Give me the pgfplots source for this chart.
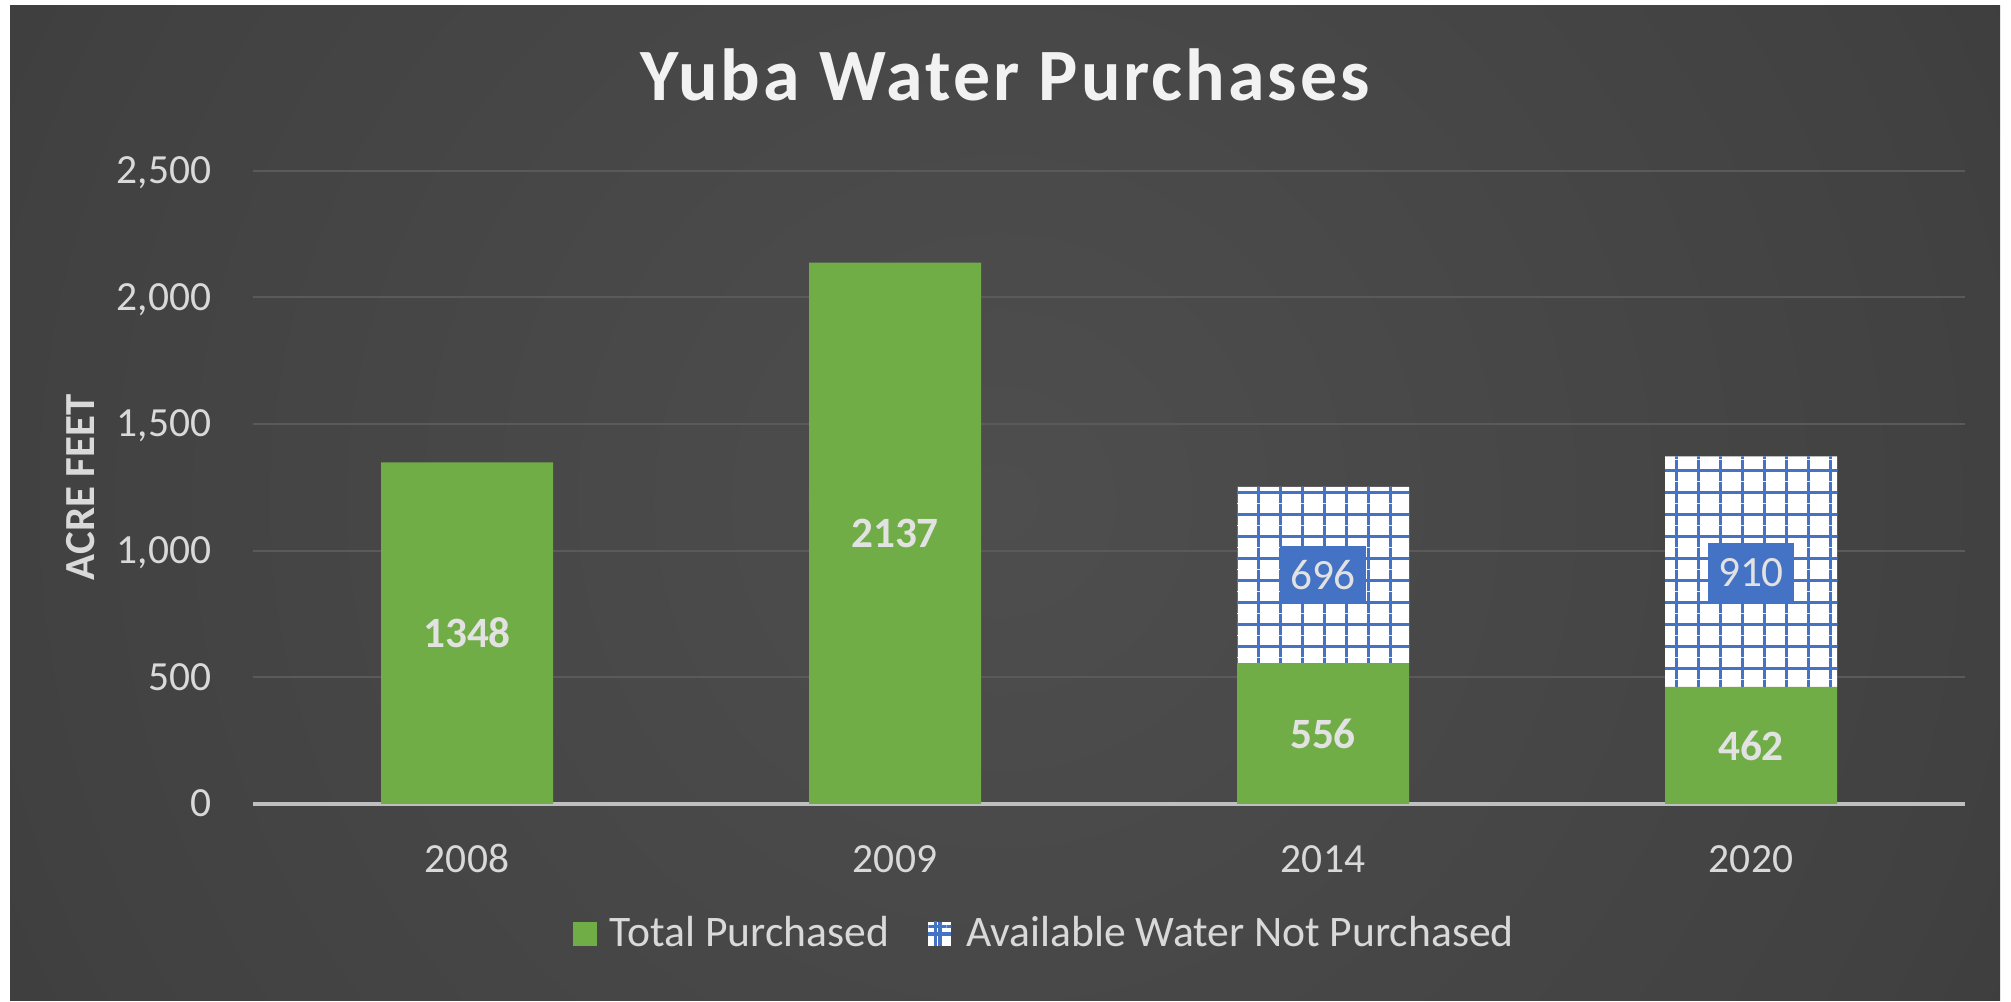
\documentclass[border=0pt]{standalone}
\usepackage{pgfplots}
\pgfplotsset{compat=1.18}
\usepackage{fontspec}
\setmainfont{Carlito}
\usetikzlibrary{patterns.meta}
\definecolor{xgreen}{HTML}{70AD47}
\definecolor{xblue}{HTML}{4472C4}
\definecolor{txt}{HTML}{D9D9D9}
\definecolor{lbl}{HTML}{E2E2E2}
\definecolor{gridc}{HTML}{5A5A5A}
\definecolor{basec}{HTML}{BFBFBF}
\definecolor{bginner}{HTML}{4E4E4E}
\definecolor{bgmid}{HTML}{414141}
\definecolor{bgout}{HTML}{2A2A2A}
\definecolor{bgcorner}{HTML}{232323}
\pgfdeclareradialshading{bgshade}{\pgfpoint{0bp}{0bp}}{color(0bp)=(bginner); color(25bp)=(bgmid); color(50bp)=(bgout); color(72bp)=(bgcorner)}
\tikzdeclarepattern{
  name=xgrid, type=colored,
  bounding box={(0pt,0pt) and (6.12pt,6.12pt)},
  tile size={(6.12pt,6.12pt)},
  code={
    \draw[xblue, line width=0.8pt] (0pt,3.06pt) -- (6.12pt,3.06pt);
    \draw[xblue, line width=0.8pt] (3.06pt,0pt) -- (3.06pt,6.12pt);
  }
}
\begin{document}
\begin{tikzpicture}
\useasboundingbox (0,0) rectangle (20.11cm,10.02cm);
\fill[white] (0,0) rectangle (20.11cm,10.02cm);
\begin{scope}
\clip (0.10cm,0.01cm) rectangle (20.04cm,9.96cm);
\shade[shading=bgshade] (0cm,-5cm) rectangle (20cm,15cm);
\end{scope}
\begin{axis}[
  at={(2.53cm,1.98cm)}, anchor=south west,
  scale only axis, width=17.12cm, height=6.334cm,
  xmin=-0.5, xmax=3.5, ymin=0, ymax=2500,
  ybar stacked, bar width=1.72cm,
  axis line style={draw=none},
  tick style={draw=none}, major tick length=0pt,
  ytick={500,1000,1500,2000,2500},
  extra y ticks={0},
  extra y tick style={ymajorgrids=true, grid style={draw=basec, line width=0.9pt}, major grid style={draw=basec, line width=0.9pt}},
  ymajorgrids,
  major grid style={draw=gridc, line width=0.55pt},
  xtick={0,1,2,3}, xticklabels={2008,2009,2014,2020},
  /pgf/number format/assume math mode=true,
  ticklabel style={font=\fontsize{11.8}{14}\selectfont, text=txt},
  yticklabel style={anchor=base east, inner sep=0pt, xshift=-0.41cm, yshift=-3.7pt},
  xticklabel style={anchor=base, inner sep=0pt, yshift=-0.69cm},
  ylabel={ACRE FEET},
  ylabel style={at={(axis description cs:-0.1005,0.5)}, anchor=center, font=\fontsize{12.2}{14}\selectfont\bfseries, text=txt},
  title={Yuba Water Purchases},
  title style={at={(axis description cs:0.4393,1.0767)}, anchor=base, font=\fontsize{21}{24}\selectfont\bfseries\addfontfeatures{LetterSpace=4}, text=white!95!black},
  legend style={at={(axis description cs:0.1869,-0.2052)}, anchor=west, draw=none, fill=none, inner sep=0pt, outer sep=0pt, font=\fontsize{12.4}{14}\selectfont, text=txt, nodes={inner sep=0pt}, /tikz/every odd column/.style={column sep=0.13cm}, /tikz/every even column/.style={column sep=0.38cm}},
  legend columns=2,
  legend cell align=left,
]
\addplot[fill=xgreen, draw=none,
  legend image code/.code={\fill[xgreen] (0cm,-0.12cm) rectangle (0.24cm,0.12cm);},
  point meta=explicit symbolic,
  nodes near coords={\pgfplotspointmeta},
  every node near coord/.append style={anchor=center, font=\fontsize{12.3}{14}\selectfont\bfseries, text=lbl},
] coordinates {(0,1348) [1348] (1,2137) [2137] (2,556) [556] (3,462) [462]};
\addplot[fill=white, draw=none, postaction={pattern=xgrid},
  legend image code/.code={\fill[white] (0cm,-0.12cm) rectangle (0.23cm,0.12cm); \draw[xblue, line width=0.9pt] (0.115cm,-0.12cm) -- (0.115cm,0.12cm) (0cm,0cm) -- (0.23cm,0cm);},
  visualization depends on=rawy \as \rawy,
  point meta=explicit symbolic,
  nodes near coords={\ifdim\rawy pt>0pt \fboxsep=0pt\colorbox{xblue}{\makebox[0.86cm]{\rule[-0.145cm]{0pt}{0.58cm}\pgfplotspointmeta}}\fi},
  every node near coord/.append style={anchor=center, font=\fontsize{12.3}{14}\selectfont, text=lbl},
] coordinates {(0,0) [0] (1,0) [0] (2,696) [696] (3,910) [910]};
\legend{Total Purchased, Available Water Not Purchased}
\end{axis}
\end{tikzpicture}
\end{document}
